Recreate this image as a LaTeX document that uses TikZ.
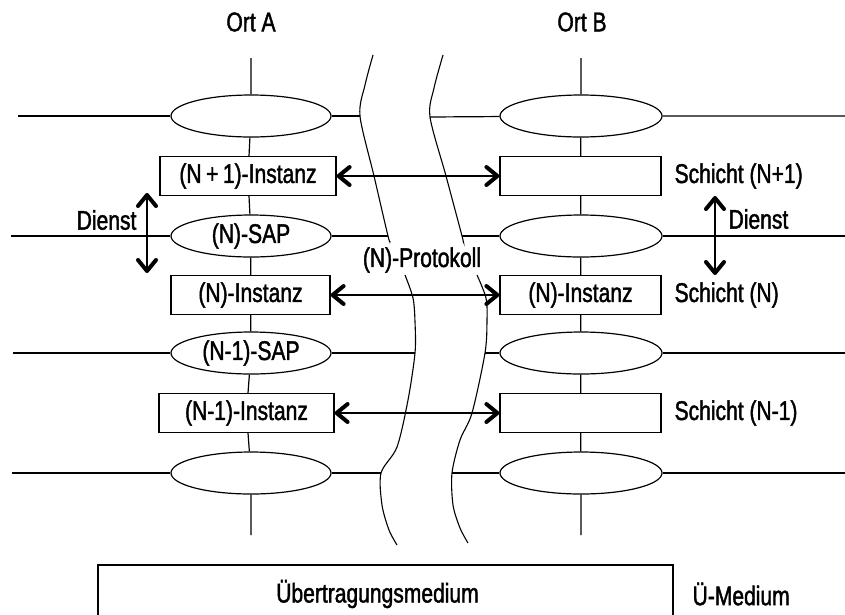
\documentclass[tikz,border=0pt]{standalone}
\usepackage{fontspec}
\setmainfont{Liberation Sans}[FakeStretch=0.78,FakeBold=1.5]
\usetikzlibrary{arrows.meta,shapes.geometric}

\begin{document}
\begin{tikzpicture}[x=1pt,y=-1pt,line width=1.2pt,
  every node/.style={font=\fontsize{27}{32}\selectfont},
  sap/.style={draw,ellipse,minimum width=160pt,minimum height=42pt,inner sep=0pt,fill=white},
  inst/.style={draw,rectangle,minimum height=39pt,inner sep=0pt,fill=white},
  barb/.tip={Straight Barb[length=11pt,width=18pt,line width=4pt,round]},
  dblarrow/.style={barb-barb},
  cutline/.style={line width=1.1pt}]
\useasboundingbox (0,0) rectangle (845,614);

% site headings
\node (ortA) at (251,22) {Ort A};
\node (ortB) at (582,22) {Ort B};

% service access points, site A
\node[sap] (eA1) at (251,116) {};
\node[sap] (eA2) at (251,236) {(N)-SAP};
\node[sap] (eA3) at (251,353) {(N-1)-SAP};
\node[sap] (eA4) at (251,473) {};
% instances, site A
\node[inst,minimum width=176pt] (bA1) at (248,176) {(N\,+\,1)-Instanz};
\node[inst,minimum width=159pt] (bA2) at (250.5,295) {(N)-Instanz};
\node[inst,minimum width=175pt] (bA3) at (246.5,413) {(N-1)-Instanz};

% service access points, site B
\node[sap,minimum width=162pt] (eB1) at (581,116) {};
\node[sap,minimum width=162pt] (eB2) at (581,236) {};
\node[sap,minimum width=162pt] (eB3) at (581,353) {};
\node[sap,minimum width=162pt] (eB4) at (581,473) {};
% instances, site B
\node[inst,minimum width=161pt] (bB1) at (580.5,176) {};
\node[inst,minimum width=161pt] (bB2) at (580.5,295) {(N)-Instanz};
\node[inst,minimum width=161pt] (bB3) at (580.5,413) {};

% vertical stacks
\coordinate (topA) at (251,58);
\coordinate (botA) at (251,535);
\coordinate (topB) at (581,58);
\coordinate (botB) at (581,535);
\draw (topA) -- (eA1) -- (bA1) -- (eA2) -- (bA2) -- (eA3) -- (bA3) -- (eA4) -- (botA);
\draw (topB) -- (eB1) -- (bB1) -- (eB2) -- (bB2) -- (eB3) -- (bB3) -- (eB4) -- (botB);

% break marks between the two sites
\coordinate (L1) at (360,116);
\coordinate (L2) at (388,236);
\coordinate (L3) at (415,353);
\coordinate (L4) at (381,473);
\coordinate (R1) at (430,117);
\coordinate (R2) at (462,236);
\coordinate (R3) at (485,353);
\coordinate (R4) at (452,473);
\draw[cutline] plot[smooth,tension=0.5] coordinates {(373,55) (365,85) (L1) (374,176) (L2) (390,241)};
\draw[cutline] plot[smooth,tension=0.5] coordinates {(405,275) (413,298) (415,322) (L3) (408,400) (397,447) (L4) (382,505) (389,530) (397,545)};
\draw[cutline] plot[smooth,tension=0.5] coordinates {(443,55) (434,88) (R1) (446,176) (R2) (463,241)};
\draw[cutline] plot[smooth,tension=0.5] coordinates {(477,275) (486,298) (487,320) (R3) (472,413) (460,440) (R4) (453,505) (460,528) (468,543)};

% layer boundaries
\coordinate (w1) at (18,116);
\coordinate (w2) at (11,236);
\coordinate (w3) at (13,353);
\coordinate (w4) at (12,473);
\coordinate (e1) at (845,116);
\coordinate (e2) at (845,236);
\coordinate (e3) at (845,353);
\coordinate (e4) at (845,473);
\foreach \i in {1,2,3,4} {
  \draw (w\i) -- (eA\i) -- (L\i);
  \draw (R\i) -- (eB\i) -- (e\i);
}

% peer protocols
\draw[dblarrow] (bA1) -- (bB1);
\draw[dblarrow] (bA2) -- (bB2);
\draw[dblarrow] (bA3) -- (bB3);
\node (prot) at (422,260) {(N)-Protokoll};

% services
\coordinate (dA1) at (147,193);
\coordinate (dA2) at (147,273);
\draw[dblarrow] (dA1) -- (dA2);
\node[anchor=east,inner sep=0pt] (dienstA) at (137,220) {Dienst};
\coordinate (dB1) at (715,196);
\coordinate (dB2) at (715,275);
\draw[dblarrow] (dB1) -- (dB2);
\node[anchor=west,inner sep=0pt] (dienstB) at (728,219) {Dienst};

% layer names
\node[anchor=west,inner sep=0pt] (sN1) at (674,176) {Schicht (N+1)};
\node[anchor=west,inner sep=0pt] (sN) at (674,295) {Schicht (N)};
\node[anchor=west,inner sep=0pt] (sNm1) at (674,413) {Schicht (N-1)};

% transmission medium
\node[draw,rectangle,minimum width=575pt,minimum height=60pt,inner sep=0pt] (med) at (385.5,595) {};
\node (medtext) at (377.5,594) {Übertragungsmedium};
\node[anchor=west,inner sep=0pt] (medlabel) at (692,594) {Ü-Medium};
\end{tikzpicture}
\end{document}
